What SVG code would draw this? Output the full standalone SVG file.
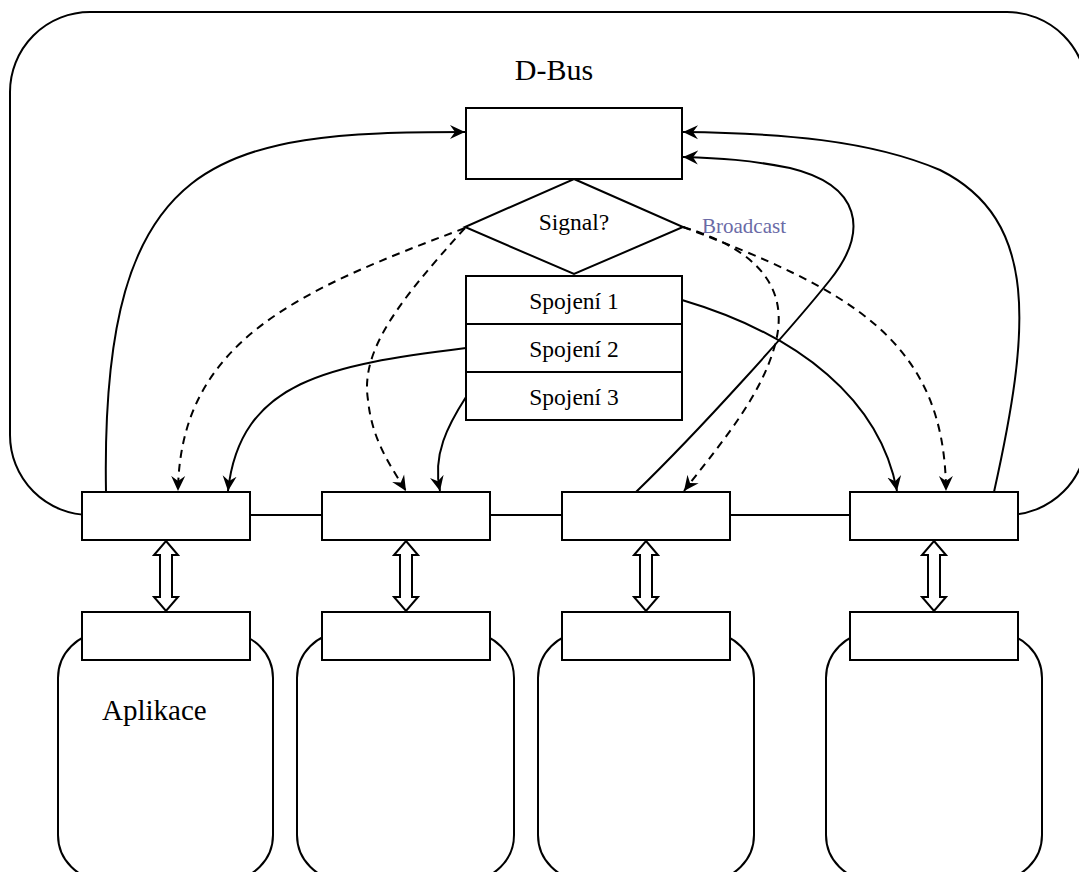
<svg xmlns="http://www.w3.org/2000/svg" width="1079" height="872" viewBox="0 0 1079 872">
  <style>
    .box { fill: #ffffff; stroke: #000000; stroke-width: 2; }
    .frame { fill: none; stroke: #000000; stroke-width: 2; }
    .app { fill: #ffffff; stroke: #000000; stroke-width: 2; }
    .edge { fill: none; stroke: #000000; stroke-width: 2; }
    .dash { fill: none; stroke: #000000; stroke-width: 2; stroke-dasharray: 8 6; }
    .dbl { fill: #ffffff; stroke: #000000; stroke-width: 2; stroke-linejoin: miter; }
    .lbl { font-family: "Liberation Serif", "Times New Roman", serif; fill: #000000; text-anchor: middle; }
    .bc { font-family: "Liberation Serif", "Times New Roman", serif; fill: #6a6aa6; font-size: 21px; }
  </style>
  <defs>
    <marker id="arrow" viewBox="0 0 15 15" refX="15" refY="7.5" markerWidth="15" markerHeight="15" markerUnits="userSpaceOnUse" orient="auto">
      <path d="M0,0.5 L15,7.5 L0,14.5 L5,7.5 z" fill="#000000" stroke="none"/>
    </marker>
  </defs>

  <!-- D-Bus daemon frame; its bottom edge forms the bus line -->
  <g id="dbus">
    <rect class="frame" x="10" y="12" width="1077" height="503" rx="80" ry="80"/>
    <text class="lbl" x="554" y="80" font-size="30">D-Bus</text>
  </g>

  <!-- applications -->
  <g id="app1">
    <rect class="app" x="58" y="633" width="215" height="247" rx="45" ry="45"/>
    <text x="102" y="720" font-family="Liberation Serif, Times New Roman, serif" font-size="29">Aplikace</text>
  </g>
  <g id="app2">
    <rect class="app" x="297" y="633" width="217" height="247" rx="45" ry="45"/>
  </g>
  <g id="app3">
    <rect class="app" x="538" y="633" width="216" height="247" rx="45" ry="45"/>
  </g>
  <g id="app4">
    <rect class="app" x="826" y="633" width="216" height="247" rx="45" ry="45"/>
  </g>

  <!-- application-side connection endpoints -->
  <g id="lib1"><rect class="box" x="82" y="612" width="168" height="48"/></g>
  <g id="lib2"><rect class="box" x="322" y="612" width="168" height="48"/></g>
  <g id="lib3"><rect class="box" x="562" y="612" width="168" height="48"/></g>
  <g id="lib4"><rect class="box" x="850" y="612" width="168" height="48"/></g>

  <!-- connectors -->
  <g id="connectors">
    <!-- messages into the dispatcher -->
    <path class="edge" marker-end="url(#arrow)" d="M106,492 C100,150 220,132 465,132"/>
    <path class="edge" marker-end="url(#arrow)" d="M994,492 C1030,330 1040,220 940,170 C870,140 780,133 683,132"/>
    <path class="edge" marker-end="url(#arrow)" d="M636,492 C700,430 790,330 830,280 C870,230 860,185 790,168 C750,160 720,158 683,157"/>
    <!-- routed connections -->
    <path class="edge" marker-end="url(#arrow)" d="M682,300 C800,335 880,400 897,491"/>
    <path class="edge" marker-end="url(#arrow)" d="M466,348 C330,365 240,380 228,491"/>
    <path class="edge" marker-end="url(#arrow)" d="M466,397 C448,425 432,455 440,491"/>
    <!-- broadcast signals -->
    <path class="dash" marker-end="url(#arrow)" d="M465,228 C300,290 180,340 178,491"/>
    <path class="dash" marker-end="url(#arrow)" d="M465,228 C400,300 360,350 368,400 C372,440 390,465 406,491"/>
    <path class="dash" marker-end="url(#arrow)" d="M683,227 C760,250 790,290 775,345 C760,400 715,450 684,491"/>
    <path class="dash" marker-end="url(#arrow)" d="M683,227 C850,290 945,340 946,491"/>
    <!-- two-way links between bus endpoints and applications -->
    <polygon class="dbl" points="166,541 178,555 172,555 172,597 178,597 166,611 154,597 160,597 160,555 154,555"/>
    <polygon class="dbl" points="406,541 418,555 412,555 412,597 418,597 406,611 394,597 400,597 400,555 394,555"/>
    <polygon class="dbl" points="646,541 658,555 652,555 652,597 658,597 646,611 634,597 640,597 640,555 634,555"/>
    <polygon class="dbl" points="934,541 946,555 940,555 940,597 946,597 934,611 922,597 928,597 928,555 922,555"/>
  </g>

  <!-- dispatcher -->
  <g id="dispatch">
    <rect class="box" x="466" y="108" width="216" height="71"/>
  </g>
  <g id="signal">
    <polygon class="box" points="574,179 683,227 574,274 465,227"/>
    <text class="lbl" x="574" y="230" font-size="23.5">Signal?</text>
    <text class="bc" x="702" y="233">Broadcast</text>
  </g>
  <g id="conn1">
    <rect class="box" x="466" y="276" width="216" height="48"/>
    <text class="lbl" x="574" y="309" font-size="23.5">Spojení 1</text>
  </g>
  <g id="conn2">
    <rect class="box" x="466" y="324" width="216" height="48"/>
    <text class="lbl" x="574" y="357" font-size="23.5">Spojení 2</text>
  </g>
  <g id="conn3">
    <rect class="box" x="466" y="372" width="216" height="48"/>
    <text class="lbl" x="574" y="405" font-size="23.5">Spojení 3</text>
  </g>

  <!-- bus-side connection endpoints -->
  <g id="bus1"><rect class="box" x="82" y="492" width="168" height="48"/></g>
  <g id="bus2"><rect class="box" x="322" y="492" width="168" height="48"/></g>
  <g id="bus3"><rect class="box" x="562" y="492" width="168" height="48"/></g>
  <g id="bus4"><rect class="box" x="850" y="492" width="168" height="48"/></g>
</svg>
